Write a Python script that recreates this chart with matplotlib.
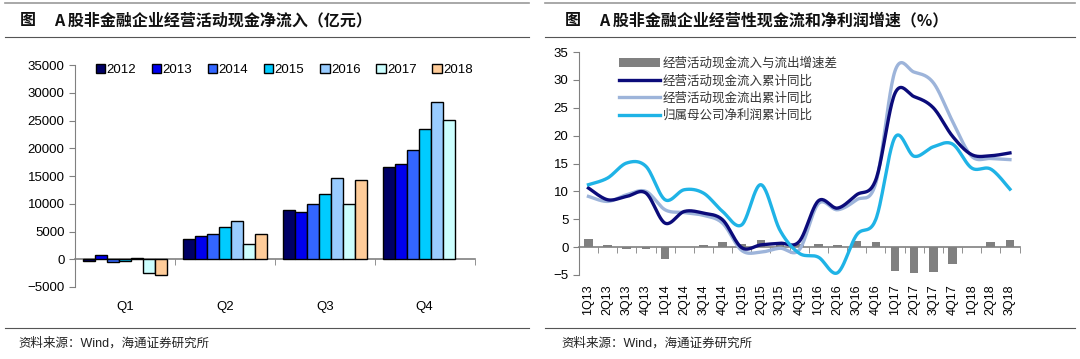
import numpy as np
import matplotlib
matplotlib.use("Agg")
import matplotlib.pyplot as plt
from matplotlib.lines import Line2D

plt.rcParams['font.family'] = ['Liberation Sans', 'Noto Sans CJK SC', 'DejaVu Sans']

# ---------------- data: left chart ----------------
quarters = ["Q1", "Q2", "Q3", "Q4"]
years = ["2012", "2013", "2014", "2015", "2016", "2017", "2018"]
v2012 = [-300, 3700, 8800, 16600]
v2013 = [800, 4200, 8500, 17100]
v2014 = [-500, 4500, 9900, 19700]
v2015 = [-300, 5800, 11700, 23500]
v2016 = [300, 6900, 14700, 28300]
v2017 = [-2500, 2800, 9900, 25100]
v2018 = [-2900, 4500, 14200, np.nan]
year_colors = ["#000066", "#0000EE", "#3366FF", "#00CCFF", "#99CCFF", "#CCFFFF", "#FFCC99"]

# ---------------- data: right chart ----------------
periods = ["1Q13", "2Q13", "3Q13", "4Q13", "1Q14", "2Q14", "3Q14", "4Q14",
           "1Q15", "2Q15", "3Q15", "4Q15", "1Q16", "2Q16", "3Q16", "4Q16",
           "1Q17", "2Q17", "3Q17", "4Q17", "1Q18", "2Q18", "3Q18"]
gap = [1.4, 0.3, -0.3, -0.3, -2.2, 0.0, 0.3, 0.9,
       0.5, 1.3, 0.6, 0.5, 0.6, 0.3, 1.1, 0.9,
       -4.2, -4.6, -4.4, -3.0, 0.0, 0.9, 1.2]
inflow = [10.6, 8.5, 9.1, 9.7, 4.3, 6.4, 6.1, 4.9,
          -0.1, 0.4, 0.7, 1.0, 8.3, 7.0, 9.4, 12.1,
          27.6, 27.0, 25.0, 19.9, 16.6, 16.4, 16.9]
outflow = [9.1, 8.2, 9.4, 10.0, 6.7, 6.2, 5.7, 4.3,
           -0.6, -0.9, -0.2, -0.5, 7.8, 6.7, 8.5, 11.5,
           31.6, 31.4, 29.5, 22.6, 16.3, 15.9, 15.7]
profit = [11.2, 12.4, 15.1, 14.5, 8.5, 10.3, 9.7, 6.4,
          4.0, 11.2, 3.0, -1.1, -1.8, -4.6, 2.2, 5.0,
          19.7, 16.3, 18.0, 18.5, 14.2, 14.0, 10.4]

GRAY = "#808080"


def smooth(y, n=24):
    """Excel-style Bezier smoothing through points."""
    y = np.asarray(y, float)
    x = np.arange(len(y), dtype=float)
    xs, ys = [], []
    t = np.linspace(0, 1, n, endpoint=False)
    for i in range(len(y) - 1):
        p0x, p0y = x[i], y[i]
        p3x, p3y = x[i + 1], y[i + 1]
        pmx, pmy = (x[i - 1], y[i - 1]) if i > 0 else (p0x, p0y)
        ppx, ppy = (x[i + 2], y[i + 2]) if i + 2 < len(y) else (p3x, p3y)
        c1x, c1y = p0x + (p3x - pmx) / 6, p0y + (p3y - pmy) / 6
        c2x, c2y = p3x - (ppx - p0x) / 6, p3y - (ppy - p0y) / 6
        b0, b1, b2, b3 = (1 - t) ** 3, 3 * t * (1 - t) ** 2, 3 * t ** 2 * (1 - t), t ** 3
        xs.append(b0 * p0x + b1 * c1x + b2 * c2x + b3 * p3x)
        ys.append(b0 * p0y + b1 * c1y + b2 * c2y + b3 * p3y)
    xs.append([x[-1]])
    ys.append([y[-1]])
    return np.concatenate(xs), np.concatenate(ys)


fig = plt.figure(figsize=(10.8, 3.59), dpi=100)

# decorative frame lines and titles
for x0, x1 in [(0.005, 0.49), (0.505, 0.995)]:
    fig.add_artist(Line2D([x0, x1], [0.991, 0.991], color="#999999", lw=1.2))
    fig.add_artist(Line2D([x0, x1], [0.897, 0.897], color="#555555", lw=0.8))
    fig.add_artist(Line2D([x0, x1], [0.085, 0.085], color="#555555", lw=0.8))

title_kw = dict(fontsize=11.5, fontweight="bold", va="center", color="#111111",
                family=['Noto Sans CJK SC', 'DejaVu Sans'])
fig.text(0.018, 0.944, "图", **title_kw)
fig.text(0.050, 0.944, "A 股非金融企业经营活动现金净流入（亿元）", **title_kw)
fig.text(0.523, 0.944, "图", **title_kw)
fig.text(0.555, 0.944, "A 股非金融企业经营性现金流和净利润增速（%）", **title_kw)

src_kw = dict(fontsize=9, va="center", color="#222222",
              family=['Liberation Sans', 'Noto Sans CJK SC'])
fig.text(0.017, 0.042, "资料来源：Wind，海通证券研究所", **src_kw)
fig.text(0.520, 0.042, "资料来源：Wind，海通证券研究所", **src_kw)

# ---------------- left chart ----------------
ax1 = fig.add_axes([0.0694, 0.2006, 0.370, 0.618])
series = [v2012, v2013, v2014, v2015, v2016, v2017, v2018]
xg = np.arange(len(quarters))
bw = 0.12
for k, (vals, col, yr) in enumerate(zip(series, year_colors, years)):
    ax1.bar(xg + (k - 3) * bw, vals, width=bw, color=col, edgecolor="black",
            linewidth=1.0, label=yr, zorder=3)
ax1.set_xlim(-0.5, 3.5)
ax1.set_ylim(-5000, 35000)
ax1.set_yticks(np.arange(-5000, 35001, 5000))
for s in ["top", "right"]:
    ax1.spines[s].set_visible(False)
ax1.spines["left"].set_color(GRAY)
ax1.spines["bottom"].set_color(GRAY)
ax1.spines["bottom"].set_position(("data", 0))
ax1.spines["bottom"].set_linewidth(1.2)
ax1.set_xticks(xg)
ax1.set_xticklabels(quarters)
ax1.set_xticks(np.arange(-0.5, 3.6, 1.0), minor=True)
ax1.tick_params(axis="x", which="major", length=0, pad=30, labelsize=9.5)
ax1.tick_params(axis="x", which="minor", length=4, color=GRAY, direction="out")
ax1.tick_params(axis="y", length=4, color=GRAY, labelsize=9.5)
ax1.legend(loc="upper left", bbox_to_anchor=(0.04, 1.03), ncol=7, frameon=False,
           fontsize=9.5, handlelength=0.7, handleheight=0.7, handletextpad=0.1,
           columnspacing=1.2, borderaxespad=0)

# ---------------- right chart ----------------
ax2 = fig.add_axes([0.536, 0.234, 0.408, 0.621])
xp = np.arange(len(periods))
ax2.bar(xp, gap, width=0.45, color=GRAY, label="经营活动现金流入与流出增速差", zorder=2)
sx, sy = smooth(outflow)
ax2.plot(sx, sy, color="#9DB4DA", lw=2.4, label="经营活动现金流出累计同比", zorder=3)
sx, sy = smooth(inflow)
ax2.plot(sx, sy, color="#0B0B7A", lw=2.4, label="经营活动现金流入累计同比", zorder=4)
sx, sy = smooth(profit)
ax2.plot(sx, sy, color="#1FB3E6", lw=2.4, label="归属母公司净利润累计同比", zorder=5)
ax2.set_xlim(-0.5, len(periods) - 0.5)
ax2.set_ylim(-5, 35)
ax2.set_yticks(np.arange(-5, 36, 5))
for s in ["top", "right"]:
    ax2.spines[s].set_visible(False)
ax2.spines["left"].set_color(GRAY)
ax2.spines["bottom"].set_color(GRAY)
ax2.spines["bottom"].set_position(("data", 0))
ax2.spines["bottom"].set_linewidth(1.2)
ax2.set_xticks(xp)
ax2.set_xticklabels(periods, rotation=90)
ax2.set_xticks(np.arange(-0.5, len(periods), 1.0), minor=True)
ax2.tick_params(axis="x", which="major", length=0, pad=27, labelsize=9)
ax2.tick_params(axis="x", which="minor", length=4, color=GRAY, direction="out")
ax2.tick_params(axis="y", length=4, color=GRAY, labelsize=9.5)

h, l = ax2.get_legend_handles_labels()
order = [l.index("经营活动现金流入与流出增速差"), l.index("经营活动现金流入累计同比"),
         l.index("经营活动现金流出累计同比"), l.index("归属母公司净利润累计同比")]
leg = ax2.legend([h[i] for i in order], [l[i] for i in order], loc="upper left",
                 bbox_to_anchor=(0.08, 1.0), frameon=False,
                 handlelength=3.3, handletextpad=0.2, labelspacing=0.35,
                 borderaxespad=0, prop={'family': ['Noto Sans CJK SC'], 'size': 9})
for t in leg.get_texts():
    t.set_color("#333333")

fig.savefig("out.png", dpi=100)
